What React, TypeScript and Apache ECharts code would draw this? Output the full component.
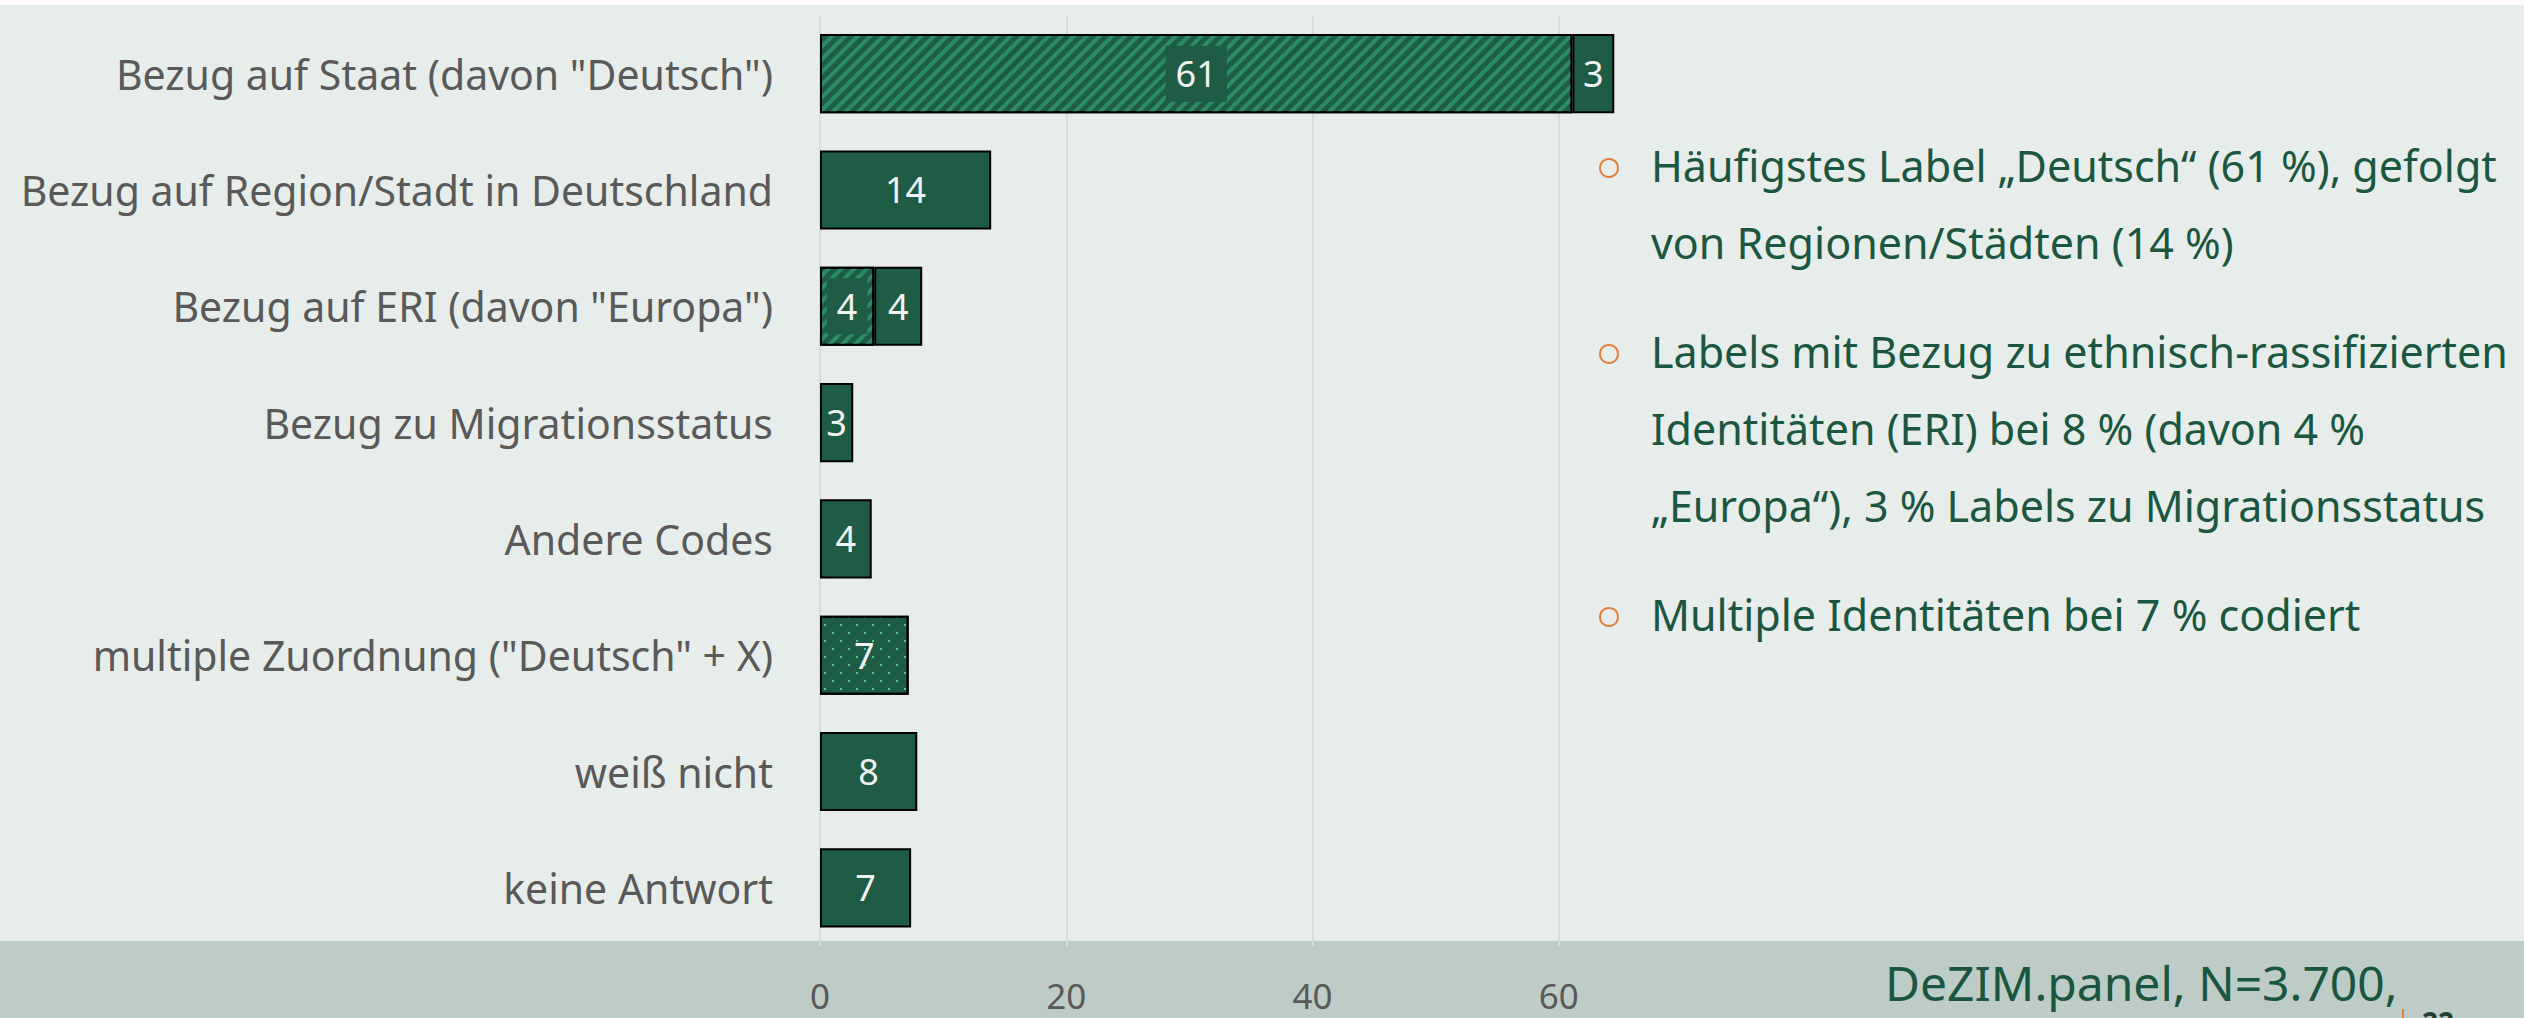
import React, { useEffect, useRef } from "react";
import * as echarts from "echarts";

const categories = [
  'Bezug auf Staat (davon "Deutsch")',
  "Bezug auf Region/Stadt in Deutschland",
  'Bezug auf ERI (davon "Europa")',
  "Bezug zu Migrationsstatus",
  "Andere Codes",
  'multiple Zuordnung ("Deutsch" + X)',
  "weiß nicht",
  "keine Antwort",
];
const davonValues = [61.1, "-", 4.4, "-", "-", "-", "-", "-"];
const multipleValues = ["-", "-", "-", "-", "-", 7.2, "-", "-"];
const mainValues = [3.4, 13.9, 3.9, 2.7, 4.2, "-", 7.9, 7.4];
const xTicks = [0, 20, 40, 60];
const bullets = [
  ["Häufigstes Label „Deutsch“ (61 %), gefolgt", "von Regionen/Städten (14 %)"],
  [
    "Labels mit Bezug zu ethnisch-rassifizierten",
    "Identitäten (ERI) bei 8 % (davon 4 %",
    "„Europa“), 3 % Labels zu Migrationsstatus",
  ],
  ["Multiple Identitäten bei 7 % codiert"],
];
const sourceText = "DeZIM.panel, N=3.700,";
const pageNumber = "22";

const FONT = "'Noto Sans'";
const DARK = "#1e5c45";
const TEXT_GREEN = "#1b5740";

export default function App() {
  const ref = useRef<HTMLDivElement>(null);
  useEffect(() => {
    document.body.style.margin = "0";
    document.body.style.overflow = "hidden";
    const chart = echarts.init(ref.current!, null, { renderer: "svg" });

    const graphics: any[] = [
      { type: "rect", z: -10, shape: { x: 0, y: 0, width: 2524, height: 5 }, style: { fill: "#ffffff" } },
      { type: "rect", z: -10, shape: { x: 0, y: 941, width: 2524, height: 77 }, style: { fill: "#bdccc7" } },
    ];
    let lineIdx = 0;
    bullets.forEach((lines, b) => {
      lines.forEach((t, i) => {
        const baseline = 180 + 77 * lineIdx + 32 * b;
        if (i === 0) {
          graphics.push({
            type: "circle",
            z: 10,
            shape: { cx: 1609, cy: baseline - 12, r: 9 },
            style: { fill: "none", stroke: "#e2803c", lineWidth: 2 },
          });
        }
        graphics.push({
          type: "text",
          z: 10,
          x: 1651,
          y: baseline - 15,
          style: {
            text: t,
            fill: TEXT_GREEN,
            font: `43px ${FONT}`,
            verticalAlign: "middle",
          },
        });
        lineIdx++;
      });
    });
    graphics.push({
      type: "text",
      z: 10,
      x: 1885,
      y: 999 - 17,
      style: { text: sourceText, fill: "#1a5540", font: `48px ${FONT}`, verticalAlign: "middle" },
    });
    graphics.push({
      type: "rect",
      z: 10,
      shape: { x: 2402, y: 1009, width: 2, height: 9 },
      style: { fill: "#e2803c" },
    });
    graphics.push({
      type: "text",
      z: 10,
      x: 2422,
      y: 1008,
      style: { text: pageNumber, fill: "#1e3f33", font: `bold 28px ${FONT}`, verticalAlign: "top" },
    });

    const labelBase = {
      show: true,
      position: "inside",
      color: "#f2f2f2",
      fontSize: 36,
      fontFamily: FONT,
      formatter: (p: any) => String(Math.round(p.value)),
    };

    chart.setOption({
      animation: false,
      backgroundColor: "#e7edea",
      grid: { left: 820, right: 842, top: 15.5, bottom: 72, containLabel: false },
      xAxis: {
        type: "value",
        min: 0,
        max: 70,
        interval: 20,
        axisLine: { show: false },
        axisTick: { show: false },
        splitLine: {
          show: true,
          lineStyle: {
            color: ["#d8dcdb", "#d8dcdb", "#d8dcdb", "#d8dcdb", "rgba(0,0,0,0)"],
            width: 2,
          },
        },
        axisLabel: {
          showMaxLabel: false,
          color: "#595959",
          fontSize: 35,
          lineHeight: 28,
          fontFamily: FONT,
          margin: 35,
          formatter: (v: number) => (xTicks.includes(v) ? String(v) : ""),
        },
      },
      yAxis: {
        type: "category",
        data: categories,
        inverse: true,
        axisLine: { show: false },
        axisTick: { show: false },
        axisLabel: { color: "#595959", fontSize: 41, fontFamily: FONT, margin: 47 },
      },
      series: [
        {
          type: "bar",
          name: "davon",
          stack: "total",
          data: davonValues,
          barCategoryGap: "32%",
          itemStyle: {
            color: DARK,
            borderColor: "#000000",
            borderWidth: 2,
            decal: {
              symbol: "rect",
              symbolSize: 1,
              color: "#2b8c67",
              dashArrayX: [1, 0],
              dashArrayY: [3.5, 5],
              rotation: -Math.PI / 4,
            },
          },
          label: { ...labelBase, backgroundColor: DARK, padding: [10, 10] },
        },
        {
          type: "bar",
          name: "multiple",
          stack: "total",
          data: multipleValues,
          barCategoryGap: "32%",
          itemStyle: {
            color: DARK,
            borderColor: "#000000",
            borderWidth: 2,
            decal: {
              symbol: "rect",
              symbolSize: 1,
              color: "#4ccc99",
              dashArrayX: [
                [2, 14],
                [0, 8, 2, 6],
              ],
              dashArrayY: [2, 6],
              rotation: 0,
            },
          },
          label: labelBase,
        },
        {
          type: "bar",
          name: "main",
          stack: "total",
          data: mainValues,
          barCategoryGap: "32%",
          itemStyle: { color: DARK, borderColor: "#000000", borderWidth: 2 },
          label: labelBase,
        },
      ],
      graphic: graphics,
    });
    return () => chart.dispose();
  }, []);
  return <div ref={ref} style={{ width: 2524, height: 1018 }} />;
}
